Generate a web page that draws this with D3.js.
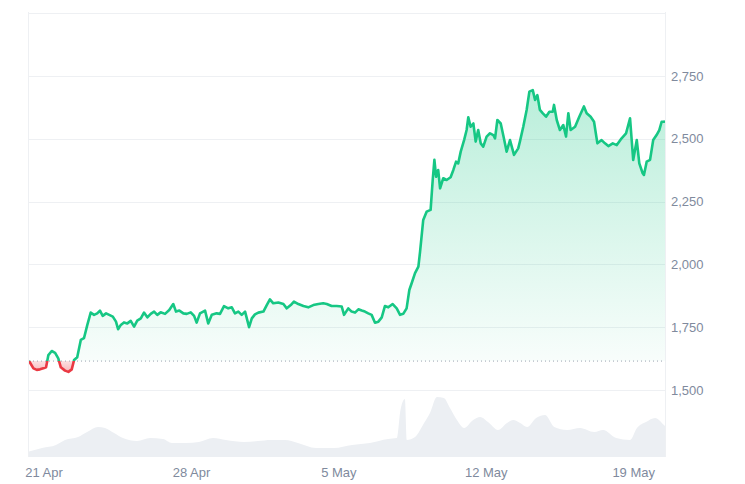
<!DOCTYPE html>
<html><head><meta charset="utf-8">
<script src="https://cdn.jsdelivr.net/npm/d3@7"></script>
<style>html,body{margin:0;padding:0;background:#fff;}svg{display:block;}</style>
</head><body>
<svg id="chart" width="745" height="484"></svg>
<script>
// Days since 21 Apr 00:00 (fractional) and price (USD)
const priceDays = [-0.69,-0.48,-0.32,-0.17,-0.01,0.12,0.23,0.39,0.55,0.70,0.82,1.02,1.18,1.34,1.45,1.60,1.77,1.92,2.08,2.24,2.40,2.55,2.68,2.81,2.97,3.12,3.29,3.44,3.54,3.67,3.82,3.98,4.14,4.30,4.45,4.62,4.77,4.93,5.09,5.25,5.40,5.56,5.77,5.97,6.16,6.29,6.45,6.64,6.80,6.99,7.15,7.27,7.43,7.67,7.82,7.99,8.22,8.38,8.57,8.77,8.94,9.09,9.25,9.41,9.57,9.76,9.89,10.04,10.20,10.44,10.60,10.75,10.91,11.15,11.39,11.55,11.74,11.89,12.10,12.34,12.57,12.81,13.05,13.28,13.45,13.68,13.92,14.16,14.27,14.47,14.63,14.79,14.95,15.11,15.26,15.42,15.58,15.74,15.90,16.06,16.21,16.37,16.58,16.77,16.93,17.08,17.24,17.37,17.48,17.64,17.80,17.88,18.03,18.19,18.38,18.48,18.56,18.64,18.74,18.83,18.98,19.14,19.33,19.46,19.59,19.69,19.81,19.97,20.09,20.17,20.28,20.41,20.52,20.64,20.76,20.88,21.04,21.20,21.36,21.44,21.55,21.71,21.86,21.99,22.15,22.34,22.54,22.62,22.78,22.94,23.07,23.23,23.34,23.45,23.57,23.70,23.86,24.02,24.18,24.24,24.37,24.52,24.68,24.81,24.92,25.03,25.24,25.44,25.66,25.79,25.98,26.14,26.30,26.50,26.66,26.82,27.03,27.22,27.45,27.66,27.85,28.00,28.17,28.29,28.45,28.51,28.64,28.80,28.95,29.11,29.24,29.35,29.46,29.51];
const prices = [1616,1586,1580,1582,1586,1590,1639,1655,1648,1626,1590,1577,1572,1582,1619,1630,1699,1706,1759,1808,1799,1805,1816,1795,1805,1799,1792,1772,1742,1759,1769,1765,1775,1752,1776,1785,1808,1789,1803,1812,1799,1809,1803,1818,1842,1812,1816,1805,1803,1809,1795,1768,1805,1816,1765,1799,1805,1803,1834,1825,1829,1805,1812,1799,1812,1750,1785,1801,1808,1812,1838,1861,1845,1848,1842,1825,1838,1852,1842,1834,1829,1838,1842,1845,1842,1834,1834,1832,1799,1825,1812,1808,1821,1816,1812,1805,1799,1768,1772,1789,1834,1829,1842,1825,1799,1803,1825,1898,1925,1965,1991,2051,2177,2210,2217,2336,2416,2349,2376,2303,2343,2336,2347,2376,2409,2402,2449,2495,2535,2586,2548,2561,2489,2535,2482,2469,2509,2522,2515,2502,2575,2561,2502,2449,2495,2436,2462,2489,2548,2615,2688,2694,2655,2674,2615,2602,2588,2608,2608,2635,2575,2535,2555,2509,2602,2535,2548,2588,2629,2602,2588,2568,2482,2495,2482,2471,2482,2475,2502,2522,2582,2416,2495,2402,2363,2356,2409,2416,2495,2515,2535,2568,2568,2570];
const basePrice = 1615;

// Volume (USD billions) by day
const volumeDays = [-0.69,-0.07,0.59,1.02,1.64,2.07,2.59,2.92,3.35,3.77,4.44,5.06,5.67,6.10,6.77,7.38,8.05,8.66,9.52,10.18,10.80,11.46,12.08,12.94,13.79,14.65,15.50,16.36,16.78,16.95,17.16,17.25,17.64,18.07,18.35,18.68,19.01,19.30,19.63,19.97,20.40,20.73,21.16,21.58,22.01,22.30,22.63,22.96,23.39,23.82,24.25,24.86,25.48,26.15,26.57,27.19,27.85,28.18,28.61,29.04,29.46,29.51];
const volumes = [2.7,4.5,6,8.5,10,12.5,15,14.5,12,9.5,8,9.5,9,7,7,7.5,9.5,8.5,7.5,8,8.5,8.5,7,4.5,4.5,6,7,9,9.5,23.5,29,8.5,10,17,22,30,29.5,24.5,18.5,14.5,18.5,20,17,13.5,17,18.5,17,15,19.5,21,15,13.5,14.5,12.5,13.5,9.5,8.5,14.5,17.5,19.5,16,15.5];

const priceTicks = [1500,1750,2000,2250,2500,2750];
const gridValues = [1500,1750,2000,2250,2500,2750,3000];
const dateTicks = ["2024-04-21","2024-04-28","2024-05-05","2024-05-12","2024-05-19"];
const dateLabels = ["21 Apr","28 Apr","5 May","12 May","19 May"];

const base = Date.UTC(2024,3,21);
const toDate = d => new Date(base + d*86400000);

const svg = d3.select("#chart");
const L = 29, R = 665, T = 12, B = 457;

const x = d3.scaleUtc().domain([toDate(-0.69), toDate(29.51)]).range([L, R]);
const y = d3.scaleLinear().domain([1233, 3005]).range([B, T]);
const yv = d3.scaleLinear().domain([0, 30]).range([B, 397]);

const green = "#16c784", red = "#ea3943";

const defs = svg.append("defs");
const grad = defs.append("linearGradient").attr("id","gfill").attr("gradientUnits","userSpaceOnUse")
  .attr("x1",0).attr("x2",0).attr("y1",y(2700)).attr("y2",y(basePrice));
grad.append("stop").attr("offset",0).attr("stop-color",green).attr("stop-opacity",0.3);
grad.append("stop").attr("offset",1).attr("stop-color",green).attr("stop-opacity",0.03);
const rgrad = defs.append("linearGradient").attr("id","rfill").attr("gradientUnits","userSpaceOnUse")
  .attr("x1",0).attr("x2",0).attr("y1",y(basePrice)).attr("y2",y(1565));
rgrad.append("stop").attr("offset",0).attr("stop-color",red).attr("stop-opacity",0.15);
rgrad.append("stop").attr("offset",1).attr("stop-color",red).attr("stop-opacity",0.4);

defs.append("clipPath").attr("id","above").append("rect")
  .attr("x",L).attr("y",0).attr("width",R-L).attr("height",y(basePrice));
defs.append("clipPath").attr("id","below").append("rect")
  .attr("x",L).attr("y",y(basePrice)).attr("width",R-L).attr("height",B-y(basePrice));

// grid
svg.append("g").selectAll("line").data(gridValues).join("line")
  .attr("x1",L).attr("x2",R).attr("y1",d=>Math.round(y(d))+0.5).attr("y2",d=>Math.round(y(d))+0.5)
  .attr("stroke","#eef0f3").attr("stroke-width",1);
svg.append("line").attr("x1",L-0.5).attr("x2",L-0.5).attr("y1",T).attr("y2",B).attr("stroke","#eef0f3");
svg.append("line").attr("x1",R+0.5).attr("x2",R+0.5).attr("y1",T).attr("y2",B).attr("stroke","#eef0f3");

// volume
const vdata = volumeDays.map((d,i)=>({t:toDate(d), v:volumes[i]}));
svg.append("path").datum(vdata)
  .attr("d", d3.area().x(d=>x(d.t)).y0(B).y1(d=>yv(d.v)).curve(d3.curveMonotoneX))
  .attr("fill","#eceff3");

// price
const pdata = priceDays.map((d,i)=>({t:toDate(d), p:prices[i]}));
const area = d3.area().x(d=>x(d.t)).y0(y(basePrice)).y1(d=>y(d.p));
const line = d3.line().x(d=>x(d.t)).y(d=>y(d.p));

svg.append("path").datum(pdata).attr("d",area).attr("fill","url(#gfill)").attr("clip-path","url(#above)");
svg.append("path").datum(pdata).attr("d",area).attr("fill","url(#rfill)").attr("clip-path","url(#below)");

// baseline
svg.append("line").attr("x1",L).attr("x2",R).attr("y1",y(basePrice)).attr("y2",y(basePrice))
  .attr("stroke","#9aa3b0").attr("stroke-width",1).attr("stroke-dasharray","1,3");

svg.append("path").datum(pdata).attr("d",line).attr("fill","none").attr("stroke",green)
  .attr("stroke-width",2.6).attr("stroke-linejoin","round").attr("clip-path","url(#above)");
svg.append("path").datum(pdata).attr("d",line).attr("fill","none").attr("stroke",red)
  .attr("stroke-width",2.6).attr("stroke-linejoin","round").attr("clip-path","url(#below)");

// right axis
const yAxis = d3.axisRight(y).tickValues(priceTicks).tickSize(0).tickPadding(6)
  .tickFormat(d3.format(","));
const ya = svg.append("g").attr("transform",`translate(${R},0)`).call(yAxis);
ya.select(".domain").remove();
ya.selectAll("text").attr("font-family","'Liberation Sans', Arial, sans-serif")
  .attr("font-size",13).attr("fill","#808a9d");

// bottom axis
const xAxis = d3.axisBottom(x).tickValues(dateTicks.map(s=>new Date(s+"T00:00:00Z")))
  .tickSize(0).tickPadding(0).tickFormat((d,i)=>dateLabels[i]);
const xa = svg.append("g").attr("transform",`translate(0,${468})`).call(xAxis);
xa.select(".domain").remove();
xa.selectAll("text").attr("font-family","'Liberation Sans', Arial, sans-serif")
  .attr("font-size",13).attr("fill","#808a9d");
</script>
</body></html>
